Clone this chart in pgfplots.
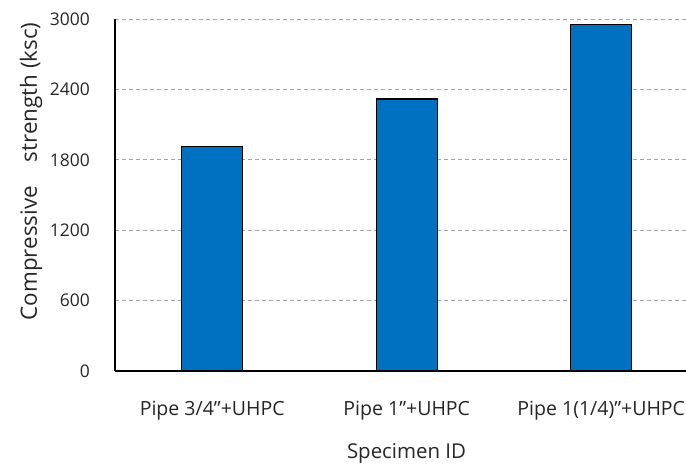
\documentclass[border=0pt]{standalone}
\usepackage{pgfplots}
\pgfplotsset{compat=1.18}
\usepackage{fontspec}
\setmainfont{Open Sans}
\definecolor{barblue}{HTML}{0070C0}
\definecolor{gridgray}{HTML}{A6A6A6}
\definecolor{textgray}{HTML}{262626}
\begin{document}
\fontsize{17.5}{20}\selectfont
\begin{tikzpicture}[x=1bp,y=1bp]
\path[use as bounding box] (-115bp,-95bp) rectangle (571bp,371bp);
\begin{axis}[
  at={(0,0)}, anchor=south west,
  scale only axis, width=571bp, height=352bp,
  xmin=-0.5, xmax=2.436, ymin=0, ymax=3000,
  ytick={0,600,1200,1800,2400,3000},
  xtick={0,1,2},
  xticklabels={Pipe 3/4”+UHPC, Pipe 1”+UHPC, Pipe 1(1/4)"+UHPC},
  axis x line*=bottom, axis y line*=left,
  axis line style={black, line width=1.2bp, -},
  major tick length=0pt,
  ymajorgrids, grid style={gridgray, line width=0.9bp, dash pattern=on 4bp off 3bp},
  /pgf/number format/assume math mode=true,
  /pgf/number format/1000 sep={},
  yticklabel style={anchor=east, inner sep=0pt, xshift=-25bp, font=\fontsize{17.5}{20}\selectfont, text=textgray},
  xticklabel style={anchor=base, inner sep=0pt, yshift=-44.5bp, font=\fontsize{19.6}{22}\selectfont, text=textgray},
  xlabel={Specimen ID},
  ylabel={\mbox{Compressive\kern0.8em\ strength (ksc)}},
  xlabel style={at={(axis description cs:0.5105,0)}, anchor=base, inner sep=0pt, yshift=-87bp, font=\fontsize{20.5}{23}\selectfont, text=textgray},
  ylabel style={at={(axis description cs:-0.147,0.567)}, anchor=center, inner sep=0pt, font=\fontsize{22.5}{25}\selectfont, text=textgray},
  ybar, bar width=61bp,
]
\addplot[fill=barblue, draw=black, line width=1.3bp] coordinates {(0,1912) (1,2318) (2,2955)};
\end{axis}
\end{tikzpicture}
\end{document}
